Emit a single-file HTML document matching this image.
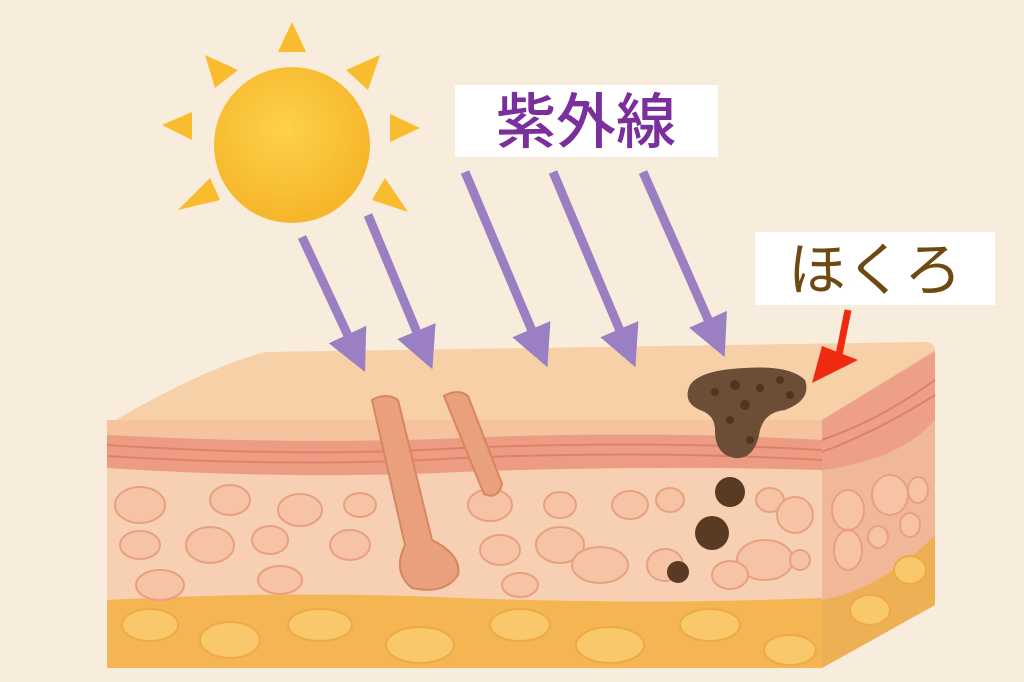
<!DOCTYPE html>
<html><head><meta charset="utf-8"><style>
body{margin:0;width:1024px;height:682px;overflow:hidden;background:#f8ecdc}
svg{display:block}
</style></head><body>
<svg width="1024" height="682" viewBox="0 0 1024 682" xmlns="http://www.w3.org/2000/svg">
<defs>
<radialGradient id="sun" cx="0.45" cy="0.4" r="0.6"><stop offset="0" stop-color="#fdd24a"/><stop offset="1" stop-color="#f6b52a"/></radialGradient>
<marker id="ah" viewBox="0 0 10 10" refX="6" refY="5" markerWidth="4.6" markerHeight="4.6" orient="auto"><path d="M0,0 L10,5 L0,10 z" fill="#9a80c2"/></marker>
</defs>
<rect width="1024" height="682" fill="#f8ecdc"/>
<g fill="#f8bc2e">
<polygon points="292,22 278,52 306,52"/>
<polygon points="205,55 215,88 238,70"/>
<polygon points="380,55 346,70 368,90"/>
<polygon points="162,125 192,112 192,140"/>
<polygon points="420,128 390,114 390,142"/>
<polygon points="178,210 210,178 220,200"/>
<polygon points="408,212 372,200 385,178"/>
</g>
<circle cx="292" cy="145" r="78" fill="url(#sun)"/>
<rect x="455" y="85" width="263" height="72" fill="#fff"/>
<text x="586" y="143" font-size="60" text-anchor="middle" fill="#7a2f9c" font-family="Liberation Sans,'Noto Sans CJK JP',sans-serif" font-weight="500">紫外線</text>
<rect x="755" y="232" width="240" height="73" fill="#fff"/>
<text x="875" y="290" font-size="58" text-anchor="middle" fill="#6e4a12" font-family="Liberation Sans,'Noto Sans CJK JP',sans-serif">ほくろ</text>
<path d="M107,425 Q200,370 265,352 L925,342 Q935,342 935,352 L822,420 Z" fill="#f7d0a8"/>
<path d="M822,420 L935,350 L935,605 L822,668 Z" fill="#f0b898"/>
<path d="M822,420 L935,352 L935,420 Q900,460 822,470 Z" fill="#eda086"/>
<path d="M822,600 Q880,590 935,535 L935,605 L822,668 Z" fill="#eeb054"/>
<rect x="107" y="420" width="715" height="248" fill="#f7cfb2"/>
<path d="M107,420 L822,420 L822,440 Q600,432 400,440 Q250,445 107,435 Z" fill="#f5c39e"/>
<path d="M107,435 Q300,445 460,438 Q650,430 822,440 L822,470 Q650,465 460,472 Q300,480 107,468 Z" fill="#ec9c82"/>
<g stroke="#df8068" stroke-width="2" fill="none">
<path d="M107,445 Q300,458 460,448 Q650,440 822,450"/>
<path d="M107,456 Q300,468 460,458 Q650,450 822,460"/>
<path d="M822,440 Q880,420 935,380"/><path d="M822,452 Q880,430 935,395"/>
</g>
<path d="M107,600 Q300,590 460,598 Q650,605 822,598 L822,668 L107,668 Z" fill="#f4b552"/>
<g fill="#f9c86a" stroke="#efa946" stroke-width="2">
<ellipse cx="150" cy="625" rx="28" ry="16"/><ellipse cx="230" cy="640" rx="30" ry="18"/><ellipse cx="320" cy="625" rx="32" ry="16"/><ellipse cx="420" cy="645" rx="34" ry="18"/><ellipse cx="520" cy="625" rx="30" ry="16"/><ellipse cx="610" cy="645" rx="34" ry="18"/><ellipse cx="710" cy="625" rx="30" ry="16"/><ellipse cx="790" cy="650" rx="26" ry="15"/><ellipse cx="870" cy="610" rx="20" ry="15"/><ellipse cx="910" cy="570" rx="16" ry="14"/>
</g>
<g fill="#f6c4a4" stroke="#e8a080" stroke-width="2">
<ellipse cx="140" cy="505" rx="25" ry="18"/><ellipse cx="230" cy="500" rx="20" ry="15"/><ellipse cx="300" cy="510" rx="22" ry="16"/><ellipse cx="140" cy="545" rx="20" ry="14"/><ellipse cx="210" cy="545" rx="24" ry="18"/><ellipse cx="270" cy="540" rx="18" ry="14"/><ellipse cx="350" cy="545" rx="20" ry="15"/><ellipse cx="160" cy="585" rx="24" ry="15"/><ellipse cx="280" cy="580" rx="22" ry="14"/><ellipse cx="360" cy="505" rx="16" ry="12"/><ellipse cx="490" cy="505" rx="22" ry="16"/><ellipse cx="560" cy="505" rx="16" ry="13"/><ellipse cx="500" cy="550" rx="20" ry="15"/><ellipse cx="560" cy="545" rx="24" ry="18"/><ellipse cx="520" cy="585" rx="18" ry="12"/><ellipse cx="630" cy="505" rx="18" ry="14"/><ellipse cx="600" cy="565" rx="28" ry="18"/><ellipse cx="670" cy="500" rx="14" ry="12"/><ellipse cx="665" cy="565" rx="18" ry="16"/><ellipse cx="770" cy="500" rx="14" ry="12"/><ellipse cx="795" cy="515" rx="18" ry="18"/><ellipse cx="765" cy="560" rx="28" ry="20"/><ellipse cx="730" cy="575" rx="18" ry="14"/><ellipse cx="800" cy="560" rx="10" ry="10"/><ellipse cx="848" cy="510" rx="16" ry="20"/><ellipse cx="890" cy="495" rx="18" ry="20"/><ellipse cx="918" cy="490" rx="10" ry="13"/><ellipse cx="848" cy="550" rx="14" ry="20"/><ellipse cx="878" cy="537" rx="10" ry="11"/><ellipse cx="910" cy="525" rx="10" ry="12"/>
</g>
<g fill="#eaa07c" stroke="#d98560" stroke-width="2">
<path d="M372,400 Q386,392 398,400 L432,540 Q462,555 458,575 Q445,595 412,588 Q392,572 405,545 Z"/>
<path d="M444,396 Q458,388 468,396 L502,484 Q498,500 484,494 Z"/>
</g>
<path d="M690,385 Q700,370 745,368 Q790,365 805,380 Q812,400 785,410 Q765,412 760,430 Q755,460 735,458 Q715,455 715,430 Q715,415 700,410 Q682,402 690,385 Z" fill="#6b4e35"/>
<g fill="#4e3522"><circle cx="715" cy="392" r="4"/><circle cx="735" cy="385" r="5"/><circle cx="760" cy="388" r="4"/><circle cx="780" cy="380" r="4"/><circle cx="745" cy="405" r="5"/><circle cx="730" cy="420" r="4"/><circle cx="750" cy="440" r="4"/><circle cx="790" cy="395" r="4"/></g>
<circle cx="730" cy="492" r="15" fill="#5a3a22"/>
<circle cx="712" cy="533" r="17" fill="#5a3a22"/>
<circle cx="678" cy="572" r="11" fill="#5a3a22"/>
<g stroke="#9a80c2" stroke-width="9" marker-end="url(#ah)">
<line x1="302" y1="237" x2="358" y2="357"/>
<line x1="368" y1="215" x2="426" y2="354"/>
<line x1="465" y1="172" x2="541" y2="352"/>
<line x1="553" y1="172" x2="629" y2="352"/>
<line x1="643" y1="172" x2="718" y2="342"/>
</g>
<line x1="848" y1="310" x2="838" y2="360" stroke="#f02a10" stroke-width="7"/>
<polygon points="812,383 858,360 822,346" fill="#f02a10"/>
</svg>
</body></html>
